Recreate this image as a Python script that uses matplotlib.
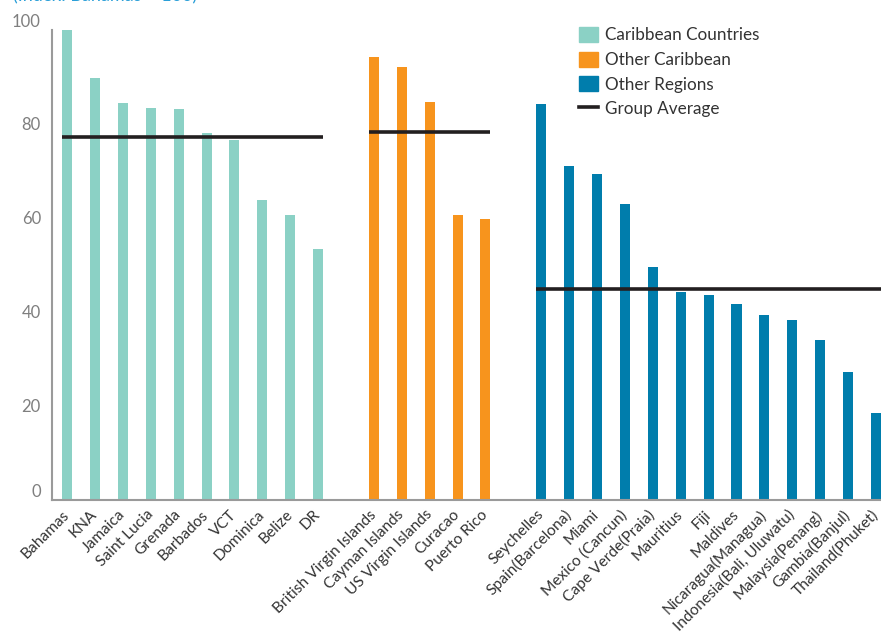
import matplotlib
matplotlib.use("Agg")
import matplotlib.pyplot as plt
from matplotlib.patches import Patch
from matplotlib.lines import Line2D

plt.rcParams['font.family'] = ['Lato', 'DejaVu Sans']

carib_names = ["Bahamas", "KNA", "Jamaica", "Saint Lucia", "Grenada", "Barbados",
               "VCT", "Dominica", "Belize", "DR"]
carib_vals = [100, 89.8, 84.5, 83.4, 83.2, 78.1, 76.6, 63.8, 60.6, 53.4]
carib_avg = 77.3

other_carib_names = ["British Virgin Islands", "Cayman Islands", "US Virgin Islands",
                     "Curacao", "Puerto Rico"]
other_carib_vals = [94.3, 92.1, 84.7, 60.6, 59.8]
other_carib_avg = 78.3

other_names = ["Seychelles", "Spain(Barcelona)", "Miami", "Mexico (Cancun)",
               "Cape Verde(Praia)", "Mauritius", "Fiji", "Maldives",
               "Nicaragua(Managua)", "Indonesia(Bali, Uluwatu)", "Malaysia(Penang)",
               "Gambia(Banjul)", "Thailand(Phuket)"]
other_vals = [84.3, 71.1, 69.4, 63.0, 49.6, 44.3, 43.6, 41.7, 39.4, 38.3, 34.0, 27.2, 18.5]
other_avg = 45.0

y_ticks = [0, 20, 40, 60, 80, 100]
legend_labels = ["Caribbean Countries", "Other Caribbean", "Other Regions", "Group Average"]
subtitle = "(Index: Bahamas = 100)"

c_teal = "#8bd1c5"
c_orange = "#f7941d"
c_blue = "#007dac"
c_line = "#231f20"

W, H = 881, 632
fig = plt.figure(figsize=(W / 100, H / 100), dpi=100)
ax = fig.add_axes([52 / W, 1 - 500 / H, (W - 52) / W, 470 / H])

bw = 0.36
groups = [(carib_names, carib_vals, carib_avg, c_teal, 0),
          (other_carib_names, other_carib_vals, other_carib_avg, c_orange, 11),
          (other_names, other_vals, other_avg, c_blue, 17)]
pos_all, lab_all = [], []
for names, vals, avg, col, start in groups:
    pos = list(range(start, start + len(vals)))
    ax.bar(pos, vals, width=bw, color=col, zorder=2)
    ax.plot([pos[0] - bw / 2, pos[-1] + bw / 2], [avg, avg], color=c_line,
            lw=2.6, zorder=3, solid_capstyle='butt')
    pos_all += pos
    lab_all += names

ax.set_xlim(-0.54, 29.18)
ax.set_ylim(0, 100)
ax.set_yticks(y_ticks)
ax.set_yticklabels([str(v) for v in y_ticks], color="#7f7f7f", fontsize=12)
ylabs = ax.get_yticklabels()
ylabs[0].set_va('bottom')
ylabs[-1].set_va('bottom')
ax.set_xticks(pos_all)
ax.set_xticklabels(lab_all, rotation=45, ha='right', va='center',
                   rotation_mode='anchor', fontsize=11.2, color="#333333")
ax.tick_params(axis='both', length=0)
ax.tick_params(axis='y', pad=8)
ax.tick_params(axis='x', pad=9)

for s in ['top', 'right']:
    ax.spines[s].set_visible(False)
for s in ['left', 'bottom']:
    ax.spines[s].set_color("#9a9a9a")
    ax.spines[s].set_linewidth(1.5)

handles = [Patch(color=c_teal), Patch(color=c_orange), Patch(color=c_blue),
           Line2D([0], [0], color=c_line, lw=2.6)]
fig.legend(handles, legend_labels, loc='upper left',
           bbox_to_anchor=(579 / W, 1 - 27 / H), frameon=False, fontsize=12.3,
           handlelength=1.1, handleheight=1.0, handletextpad=0.4,
           labelspacing=0.47, borderpad=0, borderaxespad=0, labelcolor="#333333")

fig.text(13 / W, 1 - 1 / H, subtitle, color="#2a9fd8", fontsize=13,
         ha='left', va='baseline')

fig.savefig("out.png", dpi=100)
